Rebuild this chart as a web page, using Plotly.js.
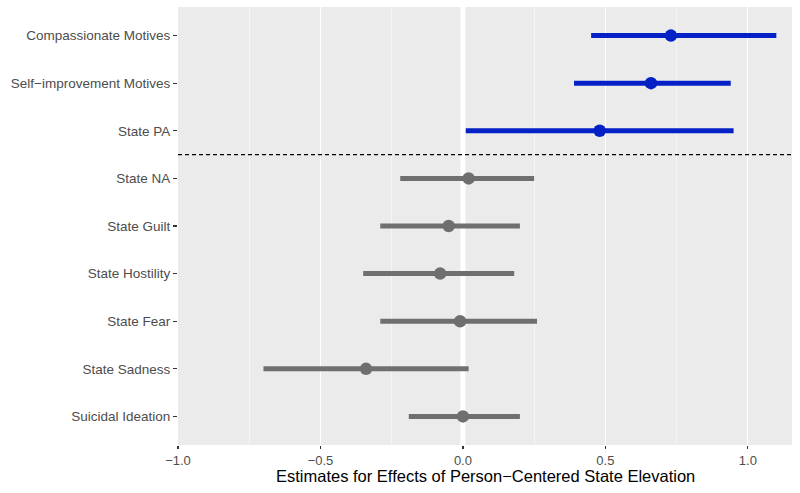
<!DOCTYPE html>
<html>
<head>
<meta charset="utf-8">
<script src="https://cdn.plot.ly/plotly-3.0.1.min.js"></script>
<style>html,body{margin:0;padding:0;background:#fff;}#chart{width:800px;height:493px;}</style>
</head>
<body>
<div id="chart"></div>
<script>
// Categories listed bottom to top
const categories = ["Suicidal Ideation", "State Sadness", "State Fear", "State Hostility", "State Guilt", "State NA", "State PA", "Self\u2212improvement Motives", "Compassionate Motives"];
const estimates = [0.00, -0.34, -0.01, -0.08, -0.05, 0.02, 0.48, 0.66, 0.73];
const lower     = [-0.19, -0.70, -0.29, -0.35, -0.29, -0.22, 0.01, 0.39, 0.45];
const upper     = [0.20, 0.02, 0.26, 0.18, 0.20, 0.25, 0.95, 0.94, 1.10];
const group     = ["neg", "neg", "neg", "neg", "neg", "neg", "pos", "pos", "pos"];
const xTickVals = [-1.0, -0.5, 0.0, 0.5, 1.0];
const xTickText = ["\u22121.0", "\u22120.5", "0.0", "0.5", "1.0"];
const xTitle = "Estimates for Effects of Person\u2212Centered State Elevation";

const colors = {neg: "#6f6f6f", pos: "#0421c6"};

function makeTrace(g) {
  const idx = categories.map((c, i) => i).filter(i => group[i] === g);
  return {
    type: "scatter",
    mode: "markers",
    x: idx.map(i => estimates[i]),
    y: idx.map(i => categories[i]),
    marker: {color: colors[g], size: 12.5, line: {width: 0}},
    error_x: {
      type: "data",
      symmetric: false,
      array: idx.map(i => upper[i] - estimates[i]),
      arrayminus: idx.map(i => estimates[i] - lower[i]),
      color: colors[g],
      thickness: 5,
      width: 0
    },
    hoverinfo: "x+y",
    showlegend: false
  };
}

const data = [makeTrace("neg"), makeTrace("pos")];

const layout = {
  width: 800,
  height: 493,
  margin: {l: 178, r: 8, t: 7, b: 48},
  paper_bgcolor: "#ffffff",
  plot_bgcolor: "#ebebeb",
  font: {family: "Liberation Sans, Arial, sans-serif", color: "#4d4d4d"},
  xaxis: {
    range: [-1.0, 1.155],
    tickvals: xTickVals,
    ticktext: xTickText,
    showgrid: true,
    gridcolor: "#ffffff",
    gridwidth: 1.2,
    minor: {dtick: 0.25, tick0: 0.25, showgrid: true, gridcolor: "#ffffff", gridwidth: 0.5, ticks: ""},
    zeroline: false,
    showline: false,
    ticks: "outside",
    ticklen: 3,
    tickwidth: 1.2,
    tickcolor: "#333333",
    tickfont: {size: 13, color: "#4d4d4d"},
    fixedrange: true
  },
  yaxis: {
    type: "category",
    categoryorder: "array",
    categoryarray: categories,
    range: [-0.6, 8.6],
    showgrid: false,
    zeroline: false,
    showline: false,
    ticks: "outside",
    ticklen: 4,
    tickwidth: 1.2,
    tickcolor: "#333333",
    tickfont: {size: 13.5, color: "#4d4d4d"},
    fixedrange: true
  },
  annotations: [
    {text: xTitle, xref: "paper", yref: "paper", x: 0.5, y: 0, xanchor: "center", yanchor: "top", yshift: -21, borderpad: 0, showarrow: false, font: {size: 16.5, color: "#000000"}}
  ],
  shapes: [
    {type: "line", xref: "x", yref: "paper", x0: 0, x1: 0, y0: 0, y1: 1, line: {color: "#ffffff", width: 5}, layer: "below"},
    {type: "line", xref: "paper", yref: "y", x0: 0, x1: 1, y0: 5.5, y1: 5.5, line: {color: "#000000", width: 1.1, dash: "4px,3px"}, layer: "above"}
  ]
};

Plotly.newPlot("chart", data, layout, {displayModeBar: false, staticPlot: true});
</script>
</body>
</html>
